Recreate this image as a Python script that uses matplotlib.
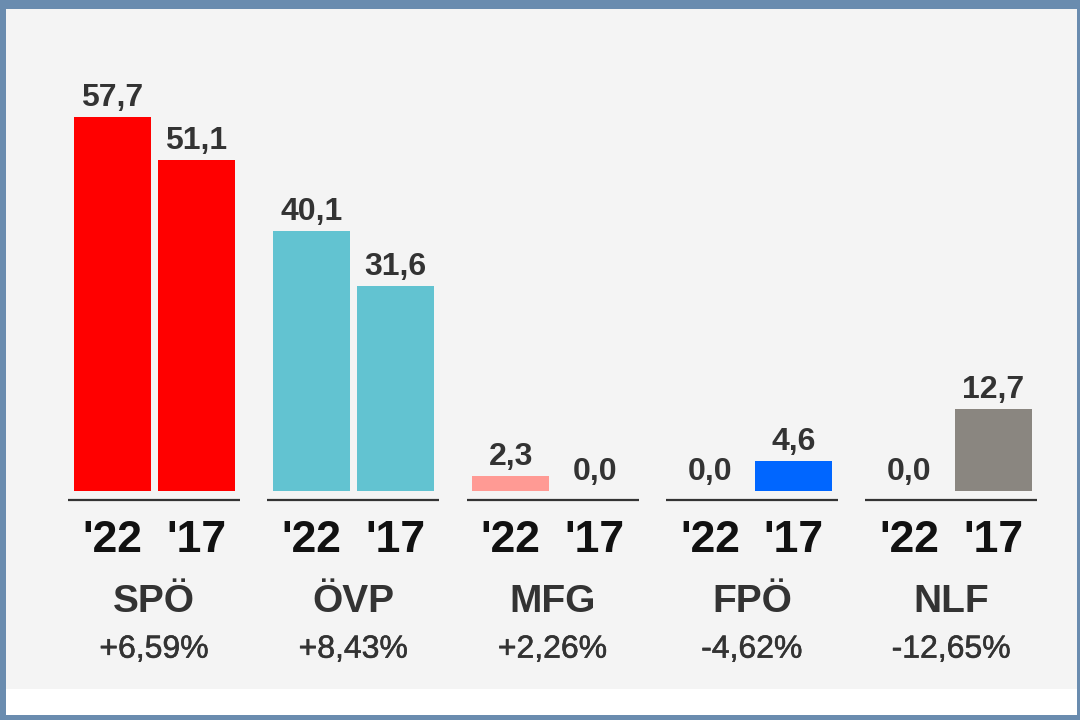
import matplotlib
matplotlib.use("Agg")
import matplotlib.pyplot as plt
from matplotlib.patches import Rectangle
import matplotlib.patheffects as pe

parties = ["SPÖ", "ÖVP", "MFG", "FPÖ", "NLF"]
years = ["'22", "'17"]
values_22 = [57.7, 40.1, 2.3, 0.0, 0.0]
values_17 = [51.1, 31.6, 0.0, 4.6, 12.7]
changes = ["+6,59%", "+8,43%", "+2,26%", "-4,62%", "-12,65%"]
colors_22 = ["#ff0000", "#62c3d1", "#ff9a94", "#0066ff", "#8a8680"]
colors_17 = ["#ff0000", "#62c3d1", "#ff9a94", "#0066ff", "#8a8680"]

W, H = 1080, 720
plt.rcParams['font.family'] = ['Liberation Sans', 'DejaVu Sans']
fig = plt.figure(figsize=(W / 100, H / 100), dpi=100)
fig.patch.set_facecolor("#6a8caf")

def px_rect(x0, y0, x1, y1, color):
    fig.add_artist(Rectangle((x0 / W, 1 - y1 / H), (x1 - x0) / W, (y1 - y0) / H,
                             transform=fig.transFigure, facecolor=color,
                             edgecolor="none", zorder=0))

px_rect(6, 9, 1077, 715, "#ffffff")
px_rect(6, 9, 1077, 689, "#f4f4f4")

ax = fig.add_axes([0, 0, 1, 1])
ax.set_facecolor("none")
pitch = 199.3
scale = 6.48
ax.set_xlim(-154 / pitch, (W - 154) / pitch)
ax.set_ylim((491 - H) / scale, 491 / scale)
ax.axis("off")

bw = 77 / pitch
off = 42 / pitch
half_line = 86 / pitch
label_col = "#333333"
medium = [pe.withStroke(linewidth=0.4, foreground=label_col)]

for i, p in enumerate(parties):
    for j, (vals, cols) in enumerate([(values_22, colors_22), (values_17, colors_17)]):
        x = i + (-off if j == 0 else off)
        v = vals[i]
        ax.bar(x, v, width=bw, color=cols[i], edgecolor="none", zorder=2)
        ax.annotate(f"{v:.1f}".replace(".", ","), (x, v), xytext=(0, 8),
                    textcoords="offset points", ha="center", va="baseline",
                    fontsize=23, fontweight="bold", color=label_col)
        ax.annotate(years[j], (x, 0), xytext=(0, -44), textcoords="offset points",
                    ha="center", va="baseline", fontsize=32, fontweight="bold",
                    color="#111111")
    ax.plot([i - half_line, i + half_line], [-9 / scale, -9 / scale],
            color="#333333", lw=1.6, solid_capstyle="butt", zorder=3)
    ax.annotate(p, (i, 0), xytext=(0, -87), textcoords="offset points",
                ha="center", va="baseline", fontsize=28, fontweight="bold",
                color=label_col)
    ax.annotate(changes[i], (i, 0), xytext=(0, -120), textcoords="offset points",
                ha="center", va="baseline", fontsize=23, color=label_col,
                path_effects=medium)

fig.savefig("out.png", dpi=100, facecolor=fig.get_facecolor())
